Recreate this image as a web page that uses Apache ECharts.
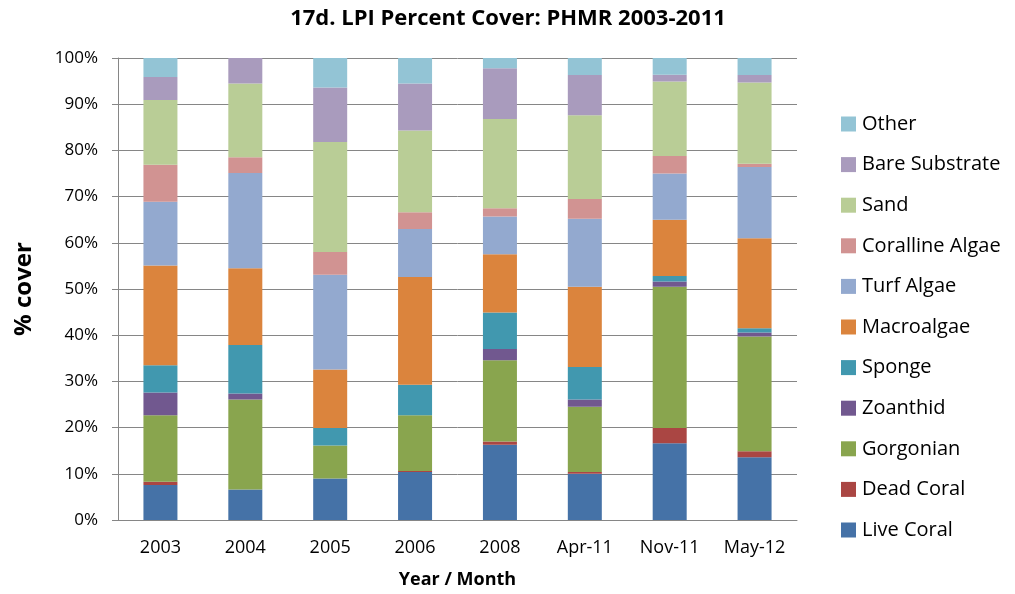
<!DOCTYPE html>
<html>
<head>
<meta charset="utf-8">
<script src="https://cdn.jsdelivr.net/npm/echarts@6/dist/echarts.min.js"></script>
<style>
html,body{margin:0;padding:0;background:#fff;}
#chart{width:1015px;height:594px;}
</style>
</head>
<body>
<div id="chart"></div>
<script>
// categories
const periods = ['2003','2004','2005','2006','2008','Apr-11','Nov-11','May-12'];
const yTicks = [0,10,20,30,40,50,60,70,80,90,100];

// % cover per category (bottom to top of the stack)
const liveCoral      = [7.6, 6.6, 9.0, 10.4, 16.3, 10.0, 16.6, 13.6];
const deadCoral      = [0.7, 0.0, 0.0, 0.2, 0.7, 0.4, 3.3, 1.3];
const gorgonian      = [14.4, 19.5, 7.1, 12.1, 17.6, 14.1, 30.6, 24.8];
const zoanthid       = [4.9, 1.3, 0.0, 0.0, 2.4, 1.6, 1.1, 0.9];
const sponge         = [5.9, 10.5, 3.8, 6.6, 7.9, 7.0, 1.2, 0.9];
const macroalgae     = [21.6, 16.6, 12.7, 23.3, 12.6, 17.4, 12.2, 19.5];
const turfAlgae      = [13.8, 20.6, 20.5, 10.4, 8.2, 14.7, 10.0, 15.4];
const corallineAlgae = [8.0, 3.4, 4.9, 3.6, 1.8, 4.3, 3.8, 0.7];
const sand           = [14.0, 16.0, 23.8, 17.7, 19.3, 18.1, 16.1, 17.6];
const bareSubstrate  = [5.0, 5.5, 11.8, 10.2, 11.0, 8.7, 1.5, 1.6];
const other          = [4.1, 0.0, 6.4, 5.5, 2.2, 3.7, 3.6, 3.7];

const seriesDefs = [
  ['Live Coral', liveCoral, '#4572A7'],
  ['Dead Coral', deadCoral, '#AA4643'],
  ['Gorgonian', gorgonian, '#89A54E'],
  ['Zoanthid', zoanthid, '#71588F'],
  ['Sponge', sponge, '#4198AF'],
  ['Macroalgae', macroalgae, '#DB843D'],
  ['Turf Algae', turfAlgae, '#93A9CF'],
  ['Coralline Algae', corallineAlgae, '#D19392'],
  ['Sand', sand, '#B9CD96'],
  ['Bare Substrate', bareSubstrate, '#A99BBD'],
  ['Other', other, '#93C4D5']
];

const font = '"Open Sans", "Liberation Sans", sans-serif';
const axisGray = '#868686';

const chart = echarts.init(document.getElementById('chart'));
const option = {
  animation: false,
  textStyle: { fontFamily: font },
  title: {
    text: '17d. LPI Percent Cover: PHMR 2003-2011',
    left: 503,
    textAlign: 'center',
    top: 3,
    textStyle: { fontFamily: font, fontSize: 22, fontWeight: 'bold', color: '#000' }
  },
  legend: {
    orient: 'vertical',
    left: 836,
    top: 109,
    itemWidth: 15,
    itemHeight: 15,
    itemGap: 20.6,
    icon: 'rect',
    data: seriesDefs.map(s => s[0]).reverse(),
    textStyle: { fontFamily: font, fontSize: 20, color: '#000', padding: [0, 0, 0, 1] }
  },
  grid: { left: 118, right: 218, top: 58, bottom: 73 },
  xAxis: {
    type: 'category',
    data: periods,
    name: 'Year / Month',
    nameLocation: 'middle',
    nameGap: 51,
    nameTextStyle: { fontFamily: font, fontSize: 18, fontWeight: 'bold', color: '#000' },
    axisLine: { lineStyle: { color: axisGray } },
    axisTick: { length: 6, lineStyle: { color: axisGray } },
    axisLabel: { fontFamily: font, fontSize: 18, color: '#000', margin: 19 }
  },
  yAxis: {
    type: 'value',
    min: yTicks[0],
    max: yTicks[yTicks.length - 1],
    interval: 10,
    name: '% cover',
    nameLocation: 'middle',
    nameGap: 82,
    nameRotate: 90,
    nameTextStyle: { fontFamily: font, fontSize: 24, fontWeight: 'bold', color: '#000' },
    axisLine: { show: true, lineStyle: { color: axisGray } },
    axisTick: { show: true, length: 6, inside: false, lineStyle: { color: axisGray } },
    axisLabel: { fontFamily: font, fontSize: 17, color: '#000', margin: 20, formatter: '{value}%' },
    splitLine: { lineStyle: { color: axisGray, width: 1 } }
  },
  series: seriesDefs.map(([name, values, color]) => ({
    name: name,
    type: 'bar',
    stack: 'cover',
    barWidth: 34,
    data: values,
    itemStyle: { color: color }
  }))
};
chart.setOption(option);
</script>
</body>
</html>
